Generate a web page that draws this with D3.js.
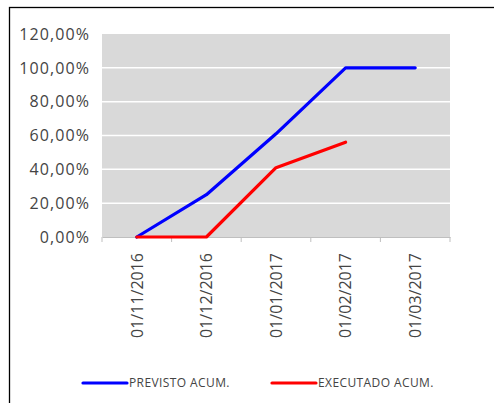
<!DOCTYPE html>
<html>
<head>
<meta charset="utf-8">
<script src="https://cdn.jsdelivr.net/npm/d3@7"></script>
<style>
  body { margin: 0; background: #fff; }
  text { font-family: "Open Sans", sans-serif; fill: #444; }
</style>
</head>
<body>
<svg width="494" height="403"></svg>
<script>
// data
const categories = ["01/11/2016", "01/12/2016", "01/01/2017", "01/02/2017", "01/03/2017"];
const previsto = [0, 25, 61, 100, 100];
const executado = [0, 0, 41, 56];
const yTicks = [0, 20, 40, 60, 80, 100, 120];
const seriesNames = ["PREVISTO ACUM.", "EXECUTADO ACUM."];
const seriesColors = ["#0000ff", "#ff0000"];

let svg = d3.select("svg");

// outer frame (runs off right/bottom edge)
svg.append("rect")
  .attr("x", 9.5).attr("y", 7.5)
  .attr("width", 520).attr("height", 420)
  .attr("fill", "none")
  .attr("stroke", "#000")
  .attr("stroke-width", 1.3);

let plotLeft = 102, plotRight = 450, plotTop = 34, plotBottom = 237;

let x = d3.scaleBand().domain(categories).range([plotLeft, plotRight]);
let y = d3.scaleLinear().domain([0, 120]).range([plotBottom, plotTop]);

// plot background
svg.append("rect")
  .attr("x", plotLeft).attr("y", plotTop)
  .attr("width", plotRight - plotLeft).attr("height", plotBottom - plotTop)
  .attr("fill", "#d9d9d9");

// gridlines
svg.selectAll(".grid")
  .data(yTicks.slice(1, -1))
  .enter().append("line")
  .attr("x1", plotLeft).attr("x2", plotRight)
  .attr("y1", d => y(d)).attr("y2", d => y(d))
  .attr("stroke", "#fff")
  .attr("stroke-width", 1.5);

// y axis labels
let fmt = d => d.toFixed(2).replace(".", ",") + "%";
svg.selectAll(".ylab")
  .data(yTicks)
  .enter().append("text")
  .attr("x", 90)
  .attr("y", d => y(d))
  .attr("dy", "0.36em")
  .attr("text-anchor", "end")
  .style("font-size", "16px")
  .style("letter-spacing", "1.1px")
  .text(fmt);

// x axis
let xAxis = svg.append("g")
  .attr("transform", `translate(0,${plotBottom})`)
  .call(d3.axisBottom(x).tickSize(0).tickFormat(""));
xAxis.select(".domain").attr("stroke", "#bfbfbf");
xAxis.selectAll(".xtick")
  .data(d3.range(categories.length + 1))
  .enter().append("line")
  .attr("x1", i => plotLeft + i * x.step()).attr("x2", i => plotLeft + i * x.step())
  .attr("y1", 0).attr("y2", 5)
  .attr("stroke", "#bfbfbf");

svg.selectAll(".xlab")
  .data(categories)
  .enter().append("text")
  .attr("transform", d => `translate(${x(d) + x.bandwidth() / 2},253) rotate(-90)`)
  .attr("text-anchor", "end")
  .attr("dy", "0.36em")
  .style("font-size", "16px")
  .style("letter-spacing", "0px")
  .text(d => d);

// lines
let line = d3.line()
  .x((d, i) => x(categories[i]) + x.bandwidth() / 2)
  .y(d => y(d));

[previsto, executado].forEach((s, i) => {
  svg.append("path")
    .datum(s)
    .attr("d", line)
    .attr("fill", "none")
    .attr("stroke", seriesColors[i])
    .attr("stroke-width", 3.2)
    .attr("stroke-linecap", "round")
    .attr("stroke-linejoin", "round");
});

// legend
let legendX = [83, 272];
seriesNames.forEach((name, i) => {
  let g = svg.append("g").attr("transform", `translate(${legendX[i]},383)`);
  g.append("line")
    .attr("x1", 0).attr("x2", 44)
    .attr("stroke", seriesColors[i])
    .attr("stroke-width", 3.2)
    .attr("stroke-linecap", "round");
  g.append("text")
    .attr("x", 46)
    .attr("dy", "0.36em")
    .style("font-size", "12px")
    .style("letter-spacing", "0.4px")
    .text(name);
});
</script>
</body>
</html>
